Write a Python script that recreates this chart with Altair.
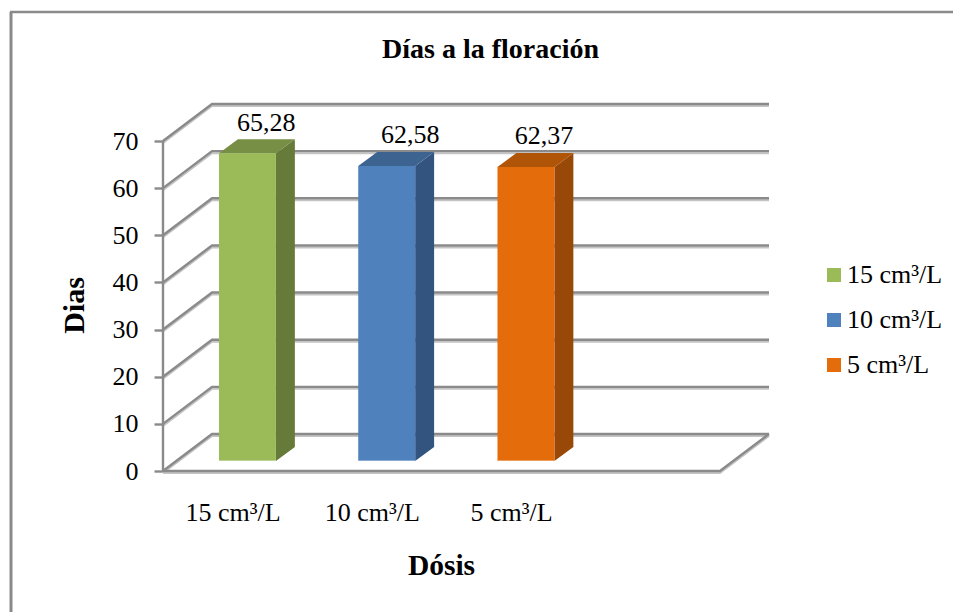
import altair as alt
import pandas as pd

categories = ["15 cm³/L", "10 cm³/L", "5 cm³/L"]
values = [65.28, 62.58, 62.37]
value_labels = ["65,28", "62,58", "62,37"]
ticks = [0, 10, 20, 30, 40, 50, 60, 70]
front_colors = ["#9BBB59", "#4F81BD", "#E46C0A"]
side_colors = ["#667A3A", "#345480", "#984807"]
top_colors = ["#778F45", "#3D6391", "#B05408"]

SERIF = "Liberation Serif"
GRID = "#8A8A8A"
N_SLOTS = 4
WALL_DX, WALL_DY = 0.352, 7.85
BAR_LEFT, BAR_W = 0.402, 0.409
BASE = 2.1
BAR_DX, BAR_DY = 0.136, 2.97
LABEL_NUDGE = [0.135, 0.17, 0.13]
LABEL_LIFT = 6.9

xs = alt.Scale(domain=[0, N_SLOTS + WALL_DX], nice=False, zero=False)
ys = alt.Scale(domain=[0, 70 + WALL_DY], nice=False, zero=False)
slot_centers = [i + 0.5 for i in range(len(categories))]
label_expr = "[" + ",".join(f"'{c}'" for c in categories) + "][floor(datum.value)]"
X = alt.X("x:Q", scale=xs, axis=alt.Axis(
    values=slot_centers, domain=False, grid=False, ticks=False,
    labelExpr=label_expr, labelFont=SERIF, labelFontSize=26, labelColor="#000000",
    labelPadding=28, labelLimit=200, labelFlush=False,
    title="Dósis", titleFont=SERIF, titleFontSize=29.5, titleFontWeight="bold",
    titleColor="#000000", titleX=278, titleY=103, titleBaseline="alphabetic",
))
Y = alt.Y("y:Q", scale=ys, axis=alt.Axis(
    values=ticks, domain=False, grid=False, format="d",
    tickColor=GRID, tickWidth=2.4, tickSize=9,
    labelFont=SERIF, labelFontSize=26, labelColor="#000000", labelPadding=16, labelFlush=False,
    labelOverlap=False,
    title="Dias", titleFont=SERIF, titleFontSize=30, titleFontWeight="bold",
    titleColor="#000000", titleX=-73.5, titleY=201, titleAngle=270,
))

grid_rows = []
for t in ticks:
    grid_rows += [
        {"id": t, "o": 0, "x": 0, "y": t},
        {"id": t, "o": 1, "x": WALL_DX, "y": t + WALL_DY},
        {"id": t, "o": 2, "x": N_SLOTS + WALL_DX, "y": t + WALL_DY},
    ]
grid_rows += [
    {"id": -1, "o": 0, "x": 0, "y": 0},
    {"id": -1, "o": 1, "x": N_SLOTS, "y": 0},
    {"id": -1, "o": 2, "x": N_SLOTS + WALL_DX, "y": WALL_DY},
]
grid_df = pd.DataFrame(grid_rows)

enc_line = dict(x=X, y=Y, detail="id:N", order="o:Q")
shadow = alt.Chart(grid_df).mark_line(color="#C4C4C4", strokeWidth=2, yOffset=2).encode(**enc_line)
grid = alt.Chart(grid_df).mark_line(color=GRID, strokeWidth=2.4).encode(**enc_line)

axis_line = alt.Chart(pd.DataFrame({"x": [0], "y": [ticks[0]], "y2": [ticks[-1]]})).mark_rule(
    color=GRID, strokeWidth=2.4
).encode(x=X, y=Y, y2="y2:Q")

bars = []
sides = []
tops = []
labels = []
for i, (c, v) in enumerate(zip(categories, values)):
    x0 = i + BAR_LEFT
    x1 = x0 + BAR_W
    bars.append({"cat": c, "x": x0, "x2": x1, "y": BASE, "y2": v + BASE})
    sides += [
        {"cat": c, "x": x1, "y": v + BASE, "y2": BASE},
        {"cat": c, "x": x1 + BAR_DX, "y": v + BASE + BAR_DY, "y2": BASE + BAR_DY},
    ]
    tops += [
        {"cat": c, "y": v + BASE, "x": x0, "x2": x1},
        {"cat": c, "y": v + BASE + BAR_DY, "x": x0 + BAR_DX, "x2": x1 + BAR_DX},
    ]
    labels.append({"x": x0 + BAR_W / 2 + LABEL_NUDGE[i], "y": v + LABEL_LIFT, "t": value_labels[i]})

cat_scale_side = alt.Scale(domain=categories, range=side_colors)
cat_scale_top = alt.Scale(domain=categories, range=top_colors)
cat_scale_front = alt.Scale(domain=categories, range=front_colors)

side_layer = alt.Chart(pd.DataFrame(sides)).mark_area(orient="vertical", opacity=1).encode(
    x=X, y=Y, y2="y2:Q", detail="cat:N",
    fill=alt.Fill("cat:N", scale=cat_scale_side, legend=None),
)
top_layer = alt.Chart(pd.DataFrame(tops)).mark_area(orient="horizontal", opacity=1).encode(
    x=X, x2="x2:Q", y=Y, detail="cat:N",
    fill=alt.Fill("cat:N", scale=cat_scale_top, legend=None),
)
front_layer = alt.Chart(pd.DataFrame(bars)).mark_rect(opacity=1).encode(
    x=X, x2="x2:Q", y=Y, y2="y2:Q",
    color=alt.Color(
        "cat:N", scale=cat_scale_front, sort=categories,
        legend=alt.Legend(
            title=None, orient="none", legendX=658, legendY=158,
            symbolType="square", symbolSize=196, symbolStrokeWidth=0,
            labelFont=SERIF, labelFontSize=26, labelColor="#000000",
            rowPadding=19, labelOffset=0, labelLimit=200,
        ),
    ),
)
base_edge = alt.Chart(pd.DataFrame(bars)).mark_rule(color="#FFFFFF", opacity=0.45, strokeWidth=1.5).encode(
    x=X, x2="x2:Q", y=Y
)
value_text = alt.Chart(pd.DataFrame(labels)).mark_text(
    font=SERIF, fontSize=26, color="#000000", baseline="alphabetic", align="center"
).encode(x=X, y=Y, text="t:N")

frame_top = alt.Chart(pd.DataFrame({"a": [0]})).mark_rule(color=GRID, strokeWidth=2.6).encode(
    x=alt.value(-153), x2=alt.value(790), y=alt.value(-92)
)
frame_left = alt.Chart(pd.DataFrame({"a": [0]})).mark_rule(color=GRID, strokeWidth=3).encode(
    x=alt.value(-152), y=alt.value(-92), y2=alt.value(508)
)

chart = alt.layer(
    frame_top, frame_left, shadow, grid, axis_line,
    side_layer, top_layer, front_layer, base_edge, value_text,
).resolve_scale(fill="independent", color="independent").properties(
    width=606,
    height=367,
    padding={"left": 155, "top": 96, "right": 184, "bottom": 141},
    autosize=alt.AutoSizeParams(type="none"),
    background="#FFFFFF",
    title=alt.Title(
        "Días a la floración", font=SERIF, fontSize=28, fontWeight="bold", color="#000000",
        anchor="start", frame="group", dx=219, dy=75, offset=0, baseline="alphabetic",
    ),
).configure_view(stroke=None)

chart.save("out.html", embed_options={"renderer": "svg", "actions": False})
